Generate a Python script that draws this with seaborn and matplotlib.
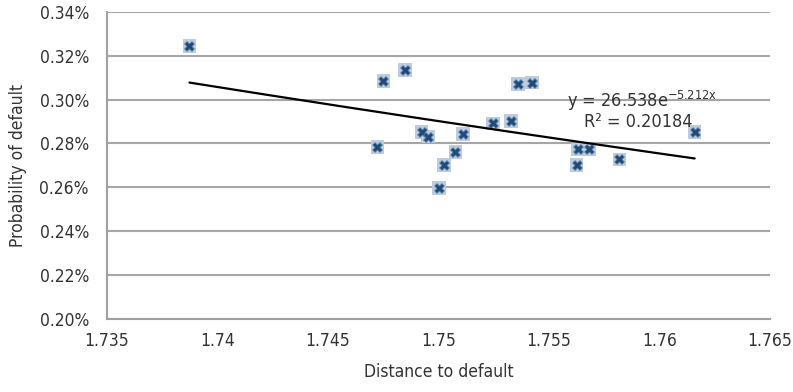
import matplotlib
matplotlib.use("Agg")
import matplotlib.pyplot as plt
import matplotlib.ticker as mticker
import numpy as np
import pandas as pd
import seaborn as sns

# distance to default vs probability of default (as fraction)
distance = [1.73873, 1.74750, 1.74848, 1.74723, 1.74923, 1.74953, 1.75024,
            1.75076, 1.75001, 1.75111, 1.75246, 1.75359, 1.75424, 1.75329,
            1.75630, 1.75683, 1.75625, 1.75818, 1.76159]
prob_default = [0.003245, 0.003084, 0.003134, 0.002785, 0.002853, 0.002831,
                0.002702, 0.002762, 0.002598, 0.002843, 0.002892, 0.003071,
                0.003077, 0.002902, 0.002773, 0.002773, 0.002702, 0.002728,
                0.002853]

# exponential trendline shown on the chart
trend_a = 26.538
trend_b = -5.212
r_squared = 0.20184

df = pd.DataFrame({"Distance to default": distance,
                   "Probability of default": prob_default})

sns.set_style("white")
plt.rcParams["font.family"] = ["DejaVu Sans"]
plt.rcParams["font.stretch"] = "condensed"
plt.rcParams["mathtext.default"] = "regular"

txt = "#333333"
fig = plt.figure(figsize=(7.93, 3.92), dpi=100)
ax = fig.add_axes([0.135, 0.186, 0.836, 0.784])

ax.grid(axis="y", color="#a6a6a6", linewidth=1.5)
ax.set_axisbelow(True)

# marker: light square with dark x on top
sns.scatterplot(data=df, x="Distance to default", y="Probability of default",
                marker="s", s=95, color="#bccbdd", edgecolor="none", ax=ax, zorder=3)
sns.scatterplot(data=df, x="Distance to default", y="Probability of default",
                marker="X", s=50, color="#1f4a78", edgecolor="#5a7fa8",
                linewidth=0.5, ax=ax, zorder=4)

xs = np.linspace(min(distance), max(distance), 200)
sns.lineplot(x=xs, y=trend_a * np.exp(trend_b * xs), color="black",
             linewidth=1.6, ax=ax, zorder=5)

ax.set_xlim(1.735, 1.765)
ax.set_ylim(0.002, 0.0034)
ax.xaxis.set_major_locator(mticker.MultipleLocator(0.005))
ax.yaxis.set_major_locator(mticker.MultipleLocator(0.0002))
ax.xaxis.set_major_formatter(mticker.FuncFormatter(lambda v, p: f"{v:g}"))
ax.yaxis.set_major_formatter(mticker.FuncFormatter(lambda v, p: f"{v*100:.2f}%"))

for s in ["top", "right"]:
    ax.spines[s].set_visible(False)
for s in ["left", "bottom"]:
    ax.spines[s].set_color("#a0a0a0")
    ax.spines[s].set_linewidth(1.5)
ax.tick_params(axis="both", direction="out", length=4, width=1.5,
               color="#a0a0a0", labelsize=12.5, labelcolor=txt)
ax.tick_params(axis="x", pad=5)
ax.tick_params(axis="y", pad=9)

ax.set_xlabel("Distance to default", fontsize=12.5, color=txt, labelpad=10)
ax.set_ylabel("Probability of default", fontsize=12.5, color=txt, labelpad=9)

ax.text(0.694, 0.71, f"y = {trend_a}e$^{{{trend_b}x}}$", transform=ax.transAxes,
        fontsize=13, color=txt, va="center", ha="left")
ax.text(0.72, 0.642, f"R² = {r_squared}", transform=ax.transAxes,
        fontsize=13, color=txt, va="center", ha="left")

fig.savefig("out.png", dpi=100)
